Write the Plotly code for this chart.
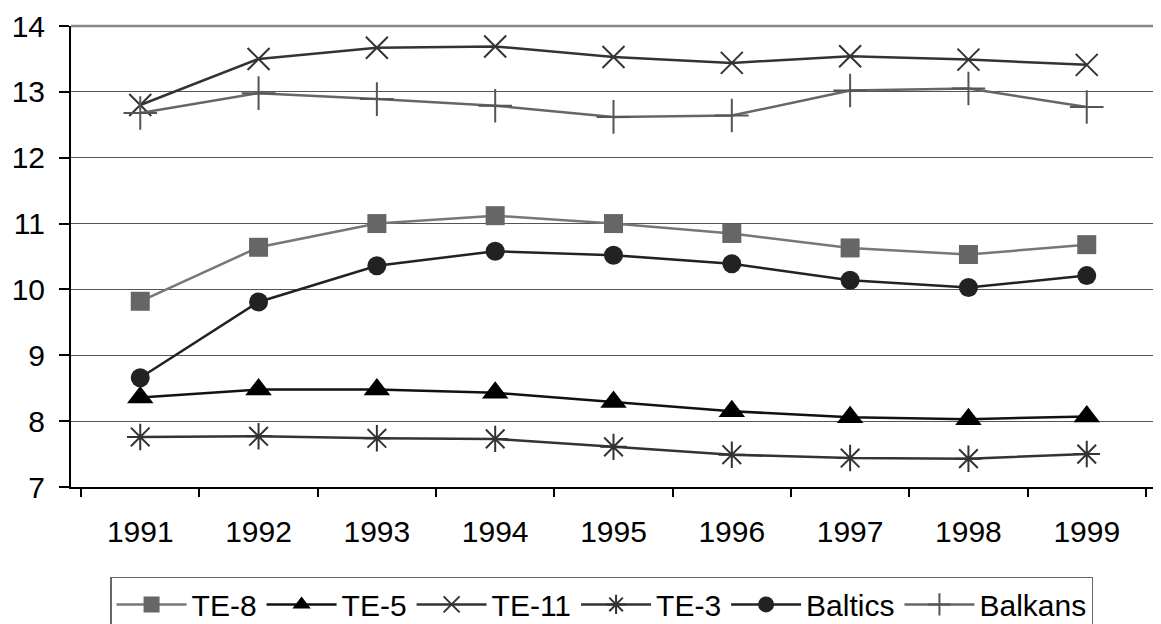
import plotly.graph_objects as go

years = ["1991", "1992", "1993", "1994", "1995", "1996", "1997", "1998", "1999"]
te8 = [9.82, 10.64, 11.00, 11.12, 11.00, 10.85, 10.63, 10.53, 10.68]
te5 = [8.36, 8.48, 8.48, 8.43, 8.29, 8.15, 8.06, 8.03, 8.07]
te11 = [12.80, 13.50, 13.67, 13.69, 13.53, 13.44, 13.54, 13.49, 13.41]
te3 = [7.76, 7.77, 7.74, 7.73, 7.61, 7.49, 7.44, 7.43, 7.50]
baltics = [8.66, 9.81, 10.36, 10.58, 10.52, 10.39, 10.14, 10.03, 10.21]
balkans = [12.68, 12.98, 12.89, 12.79, 12.62, 12.64, 13.02, 13.05, 12.77]

series = [
    ("TE-8", te8, "#777777", "square", 19, "#666666", 0),
    ("TE-5", te5, "#111111", "triangle-up", 23, "#000000", 0),
    ("TE-11", te11, "#333333", "x-thin-open", 22, "#333333", 2),
    ("TE-3", te3, "#333333", "asterisk-open", 22, "#333333", 2),
    ("Baltics", baltics, "#222222", "circle", 19, "#222222", 0),
    ("Balkans", balkans, "#666666", "cross-thin-open", 24, "#555555", 2),
]

fig = go.Figure()
for name, vals, lc, sym, size, mc, mlw in series:
    fig.add_trace(go.Scatter(
        x=years, y=vals, name=name, mode="lines+markers",
        line=dict(color=lc, width=2.5),
        marker=dict(symbol=sym, size=size, color=mc,
                    line=dict(color=mc, width=mlw)),
    ))

fig.update_layout(
    width=1153, height=616,
    margin=dict(l=63, r=5, t=18, b=137, autoexpand=False),
    paper_bgcolor="white", plot_bgcolor="white",
    font=dict(family="Liberation Sans, Arial, sans-serif", size=30, color="black"),
    showlegend=True,
    legend=dict(orientation="h", x=0.036, y=-0.195, xanchor="left", yanchor="top",
                bordercolor="#666666", borderwidth=1.5, itemwidth=70,
                font=dict(size=30), tracegroupgap=0),
    xaxis=dict(type="category", showline=True, linecolor="black", linewidth=2,
               ticks="outside", tickson="boundaries", ticklen=8, tickwidth=1.5,
               tickcolor="black", showgrid=False, ticklabelstandoff=17,
               automargin=False),
    yaxis=dict(range=[7, 14], dtick=1, showline=True, linecolor="black", linewidth=2,
               ticks="outside", ticklen=10, tickwidth=1.5, tickcolor="black",
               showgrid=True, gridcolor="#555555", gridwidth=1, zeroline=False,
               ticklabelstandoff=8, automargin=False),
    shapes=[
        dict(type="line", xref="paper", yref="paper", x0=0, x1=1, y0=1, y1=1,
             line=dict(color="#888888", width=2.5)),
        dict(type="line", xref="paper", yref="paper", x0=1, x1=1, y0=0, y1=1,
             line=dict(color="#888888", width=2.5)),
    ],
)

fig.write_html("out.html")
